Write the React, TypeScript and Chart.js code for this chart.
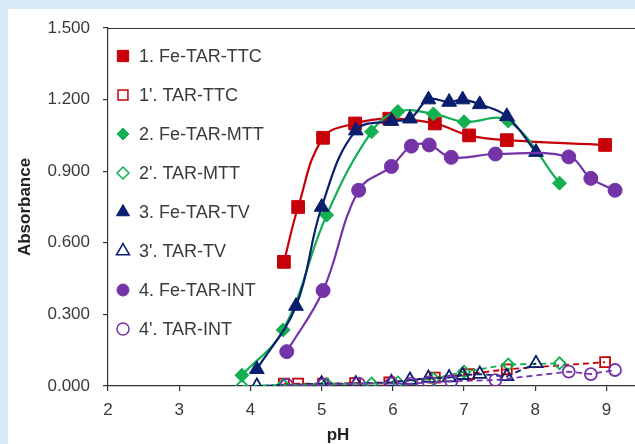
import React, { useEffect, useRef } from 'react';
import { Chart, registerables } from 'chart.js';

Chart.register(...registerables);

// ---- data ----
const xTicks = [2, 3, 4, 5, 6, 7, 8, 9];
const yTicks = [0, 0.3, 0.6, 0.9, 1.2, 1.5];

const ttcPH = [4.47, 4.67, 5.02, 5.47, 5.95, 6.59, 7.07, 7.6, 8.98];
const ttcFe = [0.52, 0.75, 1.04, 1.10, 1.12, 1.10, 1.05, 1.03, 1.01];
const ttcBlank = [0.01, 0.01, 0.01, 0.012, 0.015, 0.035, 0.05, 0.07, 0.1];

const mttPH = [3.88, 4.46, 5.07, 5.7, 6.07, 6.57, 7.0, 7.62, 8.34];
const mttFe = [0.045, 0.235, 0.716, 1.065, 1.15, 1.14, 1.107, 1.11, 0.85];
const mttBlank = [0.0, 0.005, 0.008, 0.01, 0.015, 0.03, 0.06, 0.09, 0.095];

const tvPH = [4.09, 4.64, 5.0, 5.48, 5.98, 6.24, 6.5, 6.79, 6.98, 7.22, 7.6, 8.01];
const tvFe = [0.07, 0.335, 0.75, 1.07, 1.11, 1.12, 1.2, 1.19, 1.2, 1.18, 1.13, 0.98];
const tvBlankPH = [4.09, 5.0, 5.48, 5.98, 6.24, 6.5, 6.79, 6.98, 7.22, 7.6, 8.01];
const tvBlank = [0.0, 0.01, 0.01, 0.015, 0.025, 0.033, 0.035, 0.045, 0.05, 0.04, 0.095];

const intPH = [4.51, 5.02, 5.52, 5.98, 6.26, 6.51, 6.82, 7.44, 8.47, 8.78, 9.12];
const intFe = [0.144, 0.4, 0.82, 0.92, 1.005, 1.01, 0.958, 0.972, 0.96, 0.87, 0.82];
const intBlank = [0.005, 0.005, 0.01, 0.01, 0.01, 0.015, 0.02, 0.025, 0.06, 0.05, 0.067];

const labels = [
  '1. Fe-TAR-TTC',
  "1'. TAR-TTC",
  '2. Fe-TAR-MTT',
  "2'. TAR-MTT",
  '3. Fe-TAR-TV',
  "3'. TAR-TV",
  '4. Fe-TAR-INT',
  "4'. TAR-INT",
];

const RED = '#C8000A';
const GREEN = '#12B050';
const NAVY = '#0A1E6E';
const PURPLE = '#7434A8';

const FONT = '"Liberation Sans", Arial, sans-serif';
const TEXT = '#3a3a3a';

function pts(xs: number[], ys: number[]) {
  return xs.map((x, i) => ({ x, y: ys[i] }));
}

function drawMarker(ctx: CanvasRenderingContext2D, style: string, x: number, y: number, r: number, fill: string, stroke: string, lw: number) {
  ctx.save();
  ctx.beginPath();
  if (style === 'rect') {
    const s = Math.SQRT1_2 * r;
    ctx.rect(x - s, y - s, 2 * s, 2 * s);
  } else if (style === 'rectRot') {
    ctx.moveTo(x, y - r);
    ctx.lineTo(x + r, y);
    ctx.lineTo(x, y + r);
    ctx.lineTo(x - r, y);
    ctx.closePath();
  } else if (style === 'triangle') {
    let rad = 0;
    ctx.moveTo(x + Math.sin(rad) * r, y - Math.cos(rad) * r);
    rad += (2 * Math.PI) / 3;
    ctx.lineTo(x + Math.sin(rad) * r, y - Math.cos(rad) * r);
    rad += (2 * Math.PI) / 3;
    ctx.lineTo(x + Math.sin(rad) * r, y - Math.cos(rad) * r);
    ctx.closePath();
  } else {
    ctx.arc(x, y, r, 0, Math.PI * 2);
  }
  ctx.fillStyle = fill;
  ctx.fill();
  if (lw > 0) {
    ctx.lineWidth = lw;
    ctx.strokeStyle = stroke;
    ctx.stroke();
  }
  ctx.restore();
}

const extrasPlugin = {
  id: 'extras',
  afterDraw(chart: any) {
    const { ctx, chartArea } = chart;
    // top border of plot area
    ctx.save();
    ctx.strokeStyle = '#333';
    ctx.lineWidth = 1.2;
    ctx.beginPath();
    ctx.moveTo(chartArea.left, chartArea.top + 0.5);
    ctx.lineTo(chartArea.right, chartArea.top + 0.5);
    ctx.stroke();

    // legend inside plot
    const ds = chart.data.datasets;
    ctx.font = `18px ${FONT}`;
    ctx.textBaseline = 'middle';
    ctx.textAlign = 'left';
    const startY = 47;
    const step = 39;
    ds.forEach((d: any, i: number) => {
      const y = startY + i * step;
      const mx = 115;
      const r = d.legendRadius;
      drawMarker(ctx, d.pointStyle, mx, y, r, d.pointBackgroundColor, d.pointBorderColor, d.legendBorder);
      ctx.fillStyle = TEXT;
      ctx.fillText(d.label, 131, y + 1);
    });

    // axis titles
    ctx.fillStyle = '#222';
    ctx.font = `bold 17px ${FONT}`;
    ctx.textAlign = 'center';
    ctx.textBaseline = 'middle';
    ctx.fillText('pH', 330, 426);
    ctx.save();
    ctx.translate(17, (chartArea.top + chartArea.bottom) / 2);
    ctx.rotate(-Math.PI / 2);
    ctx.fillText('Absorbance', 0, 0);
    ctx.restore();
    ctx.restore();
  },
};

function feSet(label: string, data: any[], color: string, style: string, r: number, order: number) {
  return {
    label,
    data,
    borderColor: color,
    backgroundColor: color,
    pointBackgroundColor: color,
    pointBorderColor: color,
    pointBorderWidth: 1,
    pointStyle: style,
    pointRadius: r,
    borderWidth: 2.2,
    tension: 0.4,
    legendRadius: r - 1,
    legendBorder: 1,
    order,
  };
}

function blankSet(label: string, data: any[], color: string, style: string, r: number, order: number) {
  return {
    label,
    data,
    borderColor: color,
    backgroundColor: 'rgba(255,255,255,0)',
    pointBackgroundColor: 'rgba(255,255,255,0)',
    pointBorderColor: color,
    pointBorderWidth: 1.8,
    pointStyle: style,
    pointRadius: r,
    borderWidth: 1.8,
    borderDash: [6, 4],
    tension: 0,
    legendRadius: r,
    legendBorder: 1.5,
    order,
  };
}

export default function App() {
  const ref = useRef<HTMLCanvasElement | null>(null);

  useEffect(() => {
    document.documentElement.style.background = '#d7eaf9';
    document.documentElement.style.overflow = 'hidden';
    document.body.style.margin = '0';
    const canvas = ref.current!;
    const chart = new Chart(canvas, {
      type: 'line',
      data: {
        datasets: [
          feSet(labels[0], pts(ttcPH, ttcFe), RED, 'rect', 9, 8),
          blankSet(labels[1], pts(ttcPH, ttcBlank), RED, 'rect', 7, 7),
          feSet(labels[2], pts(mttPH, mttFe), GREEN, 'rectRot', 7, 6),
          blankSet(labels[3], pts(mttPH, mttBlank), GREEN, 'rectRot', 6, 5),
          feSet(labels[4], pts(tvPH, tvFe), NAVY, 'triangle', 8.5, 4),
          blankSet(labels[5], pts(tvBlankPH, tvBlank), NAVY, 'triangle', 7.5, 3),
          feSet(labels[6], pts(intPH, intFe), PURPLE, 'circle', 7, 2),
          blankSet(labels[7], pts(intPH, intBlank), PURPLE, 'circle', 6, 1),
        ] as any,
      },
      options: {
        animation: false,
        responsive: false,
        maintainAspectRatio: false,
        layout: { autoPadding: false, padding: { top: 19, right: 0, left: 0, bottom: 0 } },
        plugins: { legend: { display: false }, tooltip: { enabled: false } },
        scales: {
          x: {
            type: 'linear',
            min: 2,
            max: 9.4,
            afterFit: (s: any) => { s.height = 58; s.paddingLeft = 0; s.paddingRight = 0; },
            afterBuildTicks: (s: any) => { s.ticks = xTicks.map((v) => ({ value: v })); },
            grid: { drawOnChartArea: false, drawTicks: true, tickLength: 5, color: '#333', lineWidth: 1.2 },
            border: { display: true, color: '#333', width: 1.2 },
            ticks: {
              color: TEXT,
              font: { family: FONT, size: 17 },
              padding: 9,
              maxRotation: 0,
              callback: (v: any) => String(v),
            },
          },
          y: {
            type: 'linear',
            min: 0,
            max: 1.5,
            afterFit: (s: any) => { s.width = 100; s.paddingTop = 0; s.paddingBottom = 0; },
            afterBuildTicks: (s: any) => { s.ticks = yTicks.map((v) => ({ value: v })); },
            grid: { drawOnChartArea: false, drawTicks: true, tickLength: 5, color: '#333', lineWidth: 1.2 },
            border: { display: true, color: '#333', width: 1.2 },
            ticks: {
              color: TEXT,
              font: { family: FONT, size: 17 },
              padding: 13,
              callback: (v: any) => Number(v).toFixed(3),
            },
          },
        },
      } as any,
      plugins: [extrasPlugin],
    });
    return () => chart.destroy();
  }, []);

  return (
    <div style={{ position: 'absolute', left: 8, top: 9, width: 627, height: 435, background: '#ffffff' }}>
      <canvas ref={ref} width={627} height={435} style={{ display: 'block', width: 627, height: 435 }} />
    </div>
  );
}
